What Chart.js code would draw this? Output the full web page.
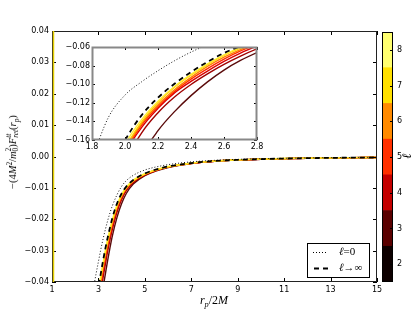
<!DOCTYPE html>
<html>
<head>
<meta charset="utf-8">
<script src="https://cdn.jsdelivr.net/npm/chart.js@4.4.0/dist/chart.umd.min.js"></script>
<style>
  body { margin: 0; background: #fff; }
  #wrap { position: relative; width: 415px; height: 314px; overflow: hidden; }
  canvas { position: absolute; left: 0; top: 0; }
  .math { position: absolute; font-family: "Liberation Serif", "DejaVu Serif", serif; color: #000; white-space: nowrap; }
  .math i { font-style: italic; }
  .math sub, .math sup { font-size: 0.7em; line-height: 0; }
  .ss { display: inline-block; vertical-align: -0.25em; font-size: 0.7em; line-height: 0.95; text-align: left; }
  .ss span { display: block; }
  #ylab { left: 13px; top: 152px; font-size: 10.5px; transform: translate(-50%, -50%) rotate(-90deg); }
  #xlab { left: 214px; top: 300px; font-size: 12px; transform: translate(-50%, -50%); }
  #clab { left: 407px; top: 156px; font-size: 13px; transform: translate(-50%, -50%) rotate(-90deg); }
  #legend { position: absolute; left: 307px; top: 243px; width: 61px; height: 33px; border: 1px solid #000; background: #fff; }
  #legend svg { position: absolute; left: 0; top: 0; }
  #legend .math { font-size: 11px; }
</style>
</head>
<body>
<div id="wrap">
  <canvas id="main" width="415" height="314"></canvas>
  <canvas id="inset" width="415" height="314"></canvas>
  <canvas id="cbar" width="415" height="314"></canvas>
  <div id="ylab" class="math">−(4<i>M</i><sup>2</sup>/<i>m</i><span class="ss"><span>2</span><span>0</span></span>)<i>F</i><span class="ss"><span><i>tt</i></span><span><i>ret</i></span></span>(<i>r</i><sub><i>p</i></sub>)</div>
  <div id="xlab" class="math"><i>r</i><sub><i>p</i></sub>/2<i>M</i></div>
  <div id="clab" class="math"><i>ℓ</i></div>
  <div id="legend">
    <svg width="61" height="33">
      <line x1="5" y1="8.5" x2="20" y2="8.5" stroke="#000" stroke-width="1" stroke-dasharray="1,2"></line>
      <line x1="6" y1="24.5" x2="21" y2="24.5" stroke="#000" stroke-width="1.8" stroke-dasharray="5,4"></line>
    </svg>
    <div class="math" style="left:31px;top:1px;"><i>ℓ</i>=0</div>
    <div class="math" style="left:31px;top:17px;"><i>ℓ</i>→∞</div>
  </div>
</div>
<script>
// r_p/2M sample points, shared by every curve
const rp = [1.8, 1.9, 2.0, 2.1, 2.2, 2.3, 2.4, 2.5, 2.6, 2.7, 2.8, 2.9, 3.0, 3.1, 3.2, 3.3, 3.4, 3.5, 3.6,
  3.8, 4.0, 4.2, 4.5, 5.0, 5.5, 6, 7, 8, 9, 10, 11, 12, 13, 14, 15];

const ellInf = [-0.250, -0.198, -0.1605, -0.1335, -0.1145, -0.0995, -0.0870, -0.0760, -0.0665, -0.0590,
  -0.0528, -0.0472, -0.0420, -0.0374, -0.0332, -0.0293, -0.0258, -0.0226, -0.0196, -0.0150, -0.0118,
  -0.0096, -0.0075, -0.0054, -0.0041, -0.0032, -0.0021, -0.00145, -0.00108, -0.00083, -0.00066,
  -0.00053, -0.00044, -0.00037, -0.00031];
const ellZero = [-0.180, -0.1355, -0.1117, -0.0975, -0.0855, -0.0748, -0.0655, -0.0578, -0.0515, -0.0462,
  -0.0415, -0.0373, -0.0335, -0.0297, -0.0263, -0.0232, -0.0204, -0.0179, -0.0157, -0.0122, -0.0095,
  -0.0077, -0.0060, -0.0043, -0.0033, -0.0026, -0.0017, -0.00122, -0.00091, -0.00071, -0.00056,
  -0.00045, -0.00037, -0.00031, -0.00026];
const ell2 = [-0.400, -0.300, -0.225, -0.178, -0.150, -0.1295, -0.1123, -0.0975, -0.0848, -0.0745,
  -0.0660, -0.0585, -0.0522, -0.0467, -0.0418, -0.0374, -0.0330, -0.0290, -0.0253, -0.0194, -0.0150,
  -0.0118, -0.0088, -0.0061, -0.0046, -0.0035, -0.00225, -0.00155, -0.00114, -0.00087, -0.00069,
  -0.00055, -0.00045, -0.00038, -0.00032];
const ell3 = [-0.330, -0.250, -0.186, -0.1527, -0.1307, -0.1138, -0.1003, -0.0889, -0.0787, -0.0698,
  -0.0620, -0.0553, -0.0489, -0.0434, -0.0386, -0.0343, -0.0301, -0.0265, -0.0232, -0.0177, -0.0137,
  -0.0109, -0.0083, -0.0059, -0.0044, -0.0034, -0.00222, -0.00152, -0.00113, -0.00086, -0.00068,
  -0.00055, -0.00045, -0.00037, -0.00031];
const ell4 = [-0.300, -0.232, -0.176, -0.1467, -0.1259, -0.1093, -0.0970, -0.0859, -0.0755, -0.0665,
  -0.0590, -0.0522, -0.0467, -0.0415, -0.0370, -0.0328, -0.0289, -0.0255, -0.0223, -0.0170, -0.0132,
  -0.0105, -0.0081, -0.0058, -0.0044, -0.0034, -0.0022, -0.00151, -0.00112, -0.00086, -0.00068,
  -0.00054, -0.00045, -0.00037, -0.00031];
const ell5 = [-0.285, -0.222, -0.173, -0.1443, -0.1240, -0.1077, -0.0945, -0.0832, -0.0731, -0.0642,
  -0.0571, -0.0511, -0.0456, -0.0406, -0.0361, -0.0320, -0.0282, -0.0248, -0.0217, -0.0165, -0.0129,
  -0.0103, -0.0079, -0.0057, -0.0043, -0.0033, -0.00218, -0.0015, -0.00111, -0.00085, -0.00067,
  -0.00054, -0.00044, -0.00037, -0.00031];
const ell6 = [-0.275, -0.216, -0.171, -0.1426, -0.1221, -0.1059, -0.0926, -0.0809, -0.0710, -0.0628,
  -0.0559, -0.0500, -0.0446, -0.0397, -0.0353, -0.0312, -0.0275, -0.0242, -0.0211, -0.0161, -0.0126,
  -0.0101, -0.0078, -0.0056, -0.0043, -0.0033, -0.00215, -0.00148, -0.0011, -0.00085, -0.00067,
  -0.00054, -0.00044, -0.00037, -0.00031];
const ell7 = [-0.270, -0.212, -0.169, -0.1407, -0.1198, -0.1033, -0.0903, -0.0789, -0.0690, -0.0612,
  -0.0547, -0.0489, -0.0436, -0.0387, -0.0344, -0.0304, -0.0268, -0.0235, -0.0205, -0.0157, -0.0123,
  -0.0099, -0.0077, -0.0056, -0.0042, -0.0033, -0.00213, -0.00147, -0.00109, -0.00084, -0.00066,
  -0.00053, -0.00044, -0.00037, -0.00031];
const ell8 = [-0.262, -0.206, -0.165, -0.1383, -0.1183, -0.1025, -0.0895, -0.0782, -0.0684, -0.0605,
  -0.0540, -0.0483, -0.0430, -0.0383, -0.0340, -0.0300, -0.0264, -0.0232, -0.0202, -0.0155, -0.0121,
  -0.0098, -0.0076, -0.0055, -0.0042, -0.0032, -0.0021, -0.00146, -0.00108, -0.00083, -0.00066,
  -0.00053, -0.00044, -0.00037, -0.00031];

const ells = [2, 3, 4, 5, 6, 7, 8];
const ellCurves = [ell2, ell3, ell4, ell5, ell6, ell7, ell8];
const lineColors = ["#5a0a0a", "#a00000", "#d80000", "#ff2a00", "#ff8000", "#ffc800", "#ffee30"];
const barColors = ["#0d0000", "#5a0000", "#c40000", "#ff3000", "#ff8a00", "#ffe000", "#ffff70"];

const mainXTicks = [1, 3, 5, 7, 9, 11, 13, 15];
const mainYTicks = [-0.04, -0.03, -0.02, -0.01, 0, 0.01, 0.02, 0.03, 0.04];
const insetXTicks = [1.8, 2.0, 2.2, 2.4, 2.6, 2.8];
const insetYTicks = [-0.16, -0.14, -0.12, -0.10, -0.08, -0.06];

const tickFont = { family: "DejaVu Sans", size: 8 };

function fmt(v, d) {
  const s = Math.abs(v) < 1e-9 ? (0).toFixed(d) : v.toFixed(d);
  return s.replace("-", "\u2212");
}

function points(ys) {
  return rp.map((x, i) => ({ x, y: ys[i] }));
}

function curveSets() {
  const sets = [
    { data: points(ellInf), borderColor: "#000", borderWidth: 1.8, borderDash: [5, 4] },
    { data: points(ellZero), borderColor: "#111", borderWidth: 1, borderDash: [1, 2] },
  ];
  for (let i = ells.length - 1; i >= 0; i--) {
    sets.push({ data: points(ellCurves[i]), borderColor: lineColors[i], borderWidth: 1.4 });
  }
  sets.forEach((s) => {
    s.pointRadius = 0;
    s.fill = false;
    s.cubicInterpolationMode = "monotone";
  });
  return sets;
}

// inward tick marks and the frame, matplotlib style
const frameTicks = {
  id: "frameTicks",
  beforeDraw(chart, args, o) {
    if (!o.fill) return;
    const a = chart.chartArea;
    chart.ctx.save();
    chart.ctx.fillStyle = "#fff";
    chart.ctx.fillRect(a.left, a.top, a.width, a.height);
    chart.ctx.restore();
  },
  afterDraw(chart, args, o) {
    const ctx = chart.ctx;
    const a = chart.chartArea;
    ctx.save();
    ctx.strokeStyle = "#000";
    ctx.lineWidth = 1;
    const len = o.len;
    const sides = o.sides;
    Object.values(chart.scales).forEach((s) => {
      if (s.options.display === false) return;
      s.ticks.forEach((t) => {
        const p = Math.round(s.getPixelForValue(t.value)) + 0.5;
        ctx.beginPath();
        if (s.isHorizontal()) {
          if (sides.includes("bottom")) { ctx.moveTo(p, a.bottom); ctx.lineTo(p, a.bottom - len); }
          if (sides.includes("top")) { ctx.moveTo(p, a.top); ctx.lineTo(p, a.top + len); }
        } else {
          if (sides.includes("left")) { ctx.moveTo(a.left, p); ctx.lineTo(a.left + len, p); }
          if (sides.includes("right")) { ctx.moveTo(a.right, p); ctx.lineTo(a.right - len, p); }
        }
        ctx.stroke();
      });
    });
    ctx.strokeStyle = o.frame;
    ctx.lineWidth = o.frameWidth;
    ctx.strokeRect(a.left + 0.5, a.top + 0.5, a.width - 1, a.height - 1);
    if (o.leftColor) {
      ctx.strokeStyle = o.leftColor;
      ctx.lineWidth = 1.5;
      ctx.beginPath();
      ctx.moveTo(a.left + 1.5, a.top);
      ctx.lineTo(a.left + 1.5, a.bottom);
      ctx.stroke();
    }
    ctx.restore();
  },
};

function linAxis(min, max, ticks, digits, fitKey, fitSize, pad) {
  return {
    type: "linear",
    min,
    max,
    grid: { display: false, drawTicks: false },
    border: { display: false },
    afterBuildTicks: (s) => { s.ticks = ticks.map((v) => ({ value: v })); },
    afterFit: (s) => { s[fitKey] = fitSize; },
    ticks: {
      font: tickFont,
      color: "#000",
      padding: pad,
      autoSkip: false,
      maxRotation: 0,
      callback: (v) => fmt(v, digits),
    },
  };
}

const base = {
  responsive: false,
  animation: false,
  devicePixelRatio: 1,
  events: [],
};

new Chart(document.getElementById("main"), {
  type: "line",
  data: { datasets: curveSets() },
  plugins: [frameTicks],
  options: {
    ...base,
    layout: { autoPadding: false, padding: { left: 0, top: 31, right: 38, bottom: 20 } },
    plugins: {
      legend: { display: false },
      tooltip: { enabled: false },
      frameTicks: { len: 4, sides: ["left", "right", "top", "bottom"], frame: "#222", frameWidth: 1, leftColor: "#e4cf00" },
    },
    scales: {
      x: linAxis(1, 15, mainXTicks, 0, "height", 12, 3),
      y: linAxis(-0.04, 0.04, mainYTicks, 2, "width", 52, 3),
    },
  },
});

new Chart(document.getElementById("inset"), {
  type: "line",
  data: { datasets: curveSets() },
  plugins: [frameTicks],
  options: {
    ...base,
    layout: { autoPadding: false, padding: { left: 60, top: 47, right: 158, bottom: 162 } },
    plugins: {
      legend: { display: false },
      tooltip: { enabled: false },
      frameTicks: { len: 3, sides: ["left", "right", "top", "bottom"], frame: "#888", frameWidth: 2, fill: true },
    },
    scales: {
      x: linAxis(1.8, 2.8, insetXTicks, 1, "height", 12, 2),
      y: linAxis(-0.16, -0.06, insetYTicks, 2, "width", 32, 2),
    },
  },
});

new Chart(document.getElementById("cbar"), {
  type: "bar",
  data: {
    labels: ["ell"],
    datasets: ells.map((l, i) => ({
      data: [[l - 0.5, l + 0.5]],
      backgroundColor: barColors[i],
      borderWidth: 0,
      barPercentage: 1,
      categoryPercentage: 1,
      grouped: false,
    })),
  },
  plugins: [frameTicks],
  options: {
    ...base,
    layout: { autoPadding: false, padding: { left: 382, top: 32, right: 8, bottom: 32 } },
    plugins: {
      legend: { display: false },
      tooltip: { enabled: false },
      frameTicks: { len: 3, sides: ["right"], frame: "#000", frameWidth: 1 },
    },
    scales: {
      x: { display: false },
      y: { ...linAxis(1.5, 8.5, ells, 0, "width", 14, 4), position: "right" },
    },
  },
});
</script>
</body>
</html>
